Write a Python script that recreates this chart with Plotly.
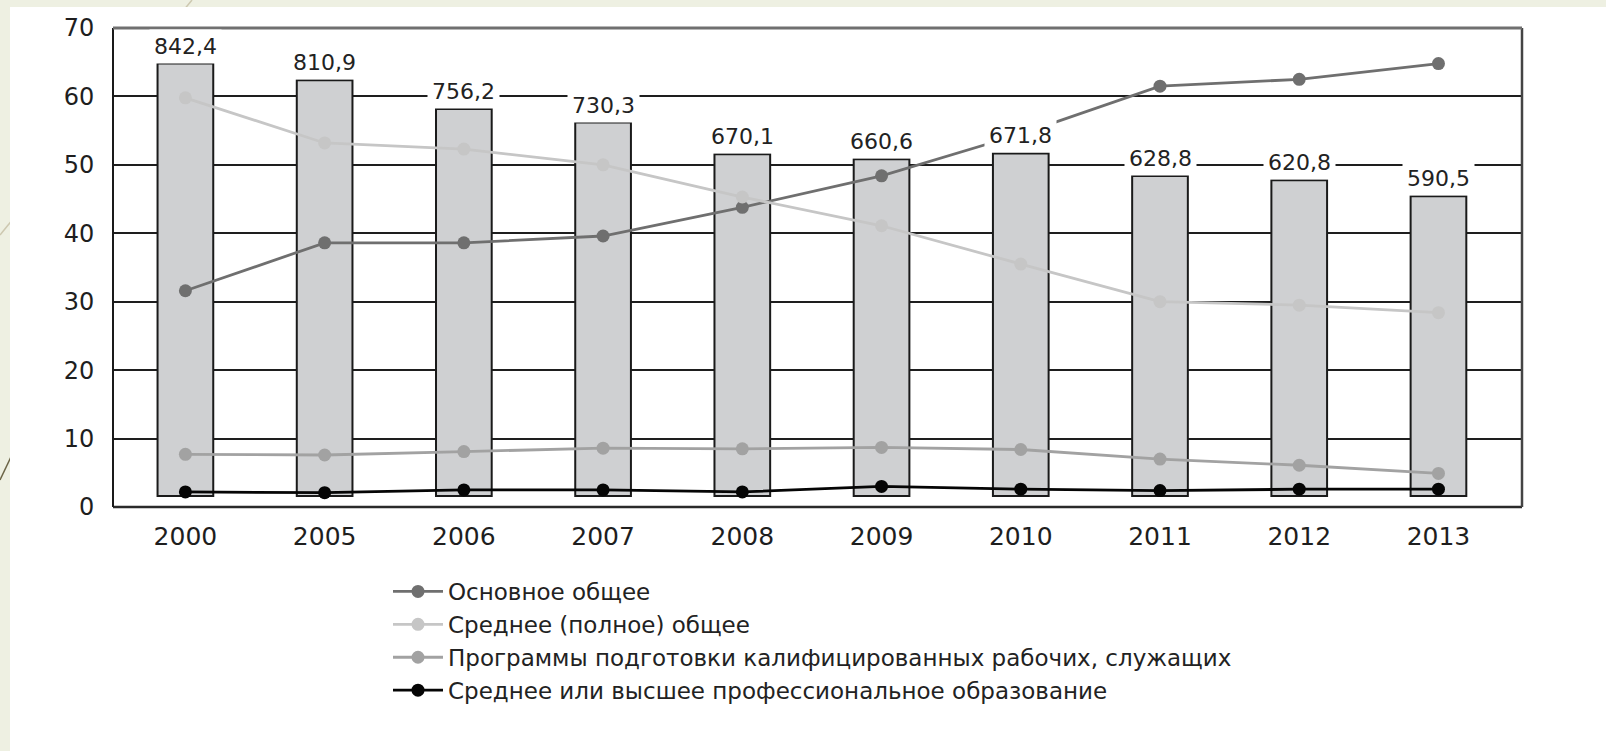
import plotly.graph_objects as go

years = ["2000", "2005", "2006", "2007", "2008", "2009", "2010", "2011", "2012", "2013"]
bar_values = [842.4, 810.9, 756.2, 730.3, 670.1, 660.6, 671.8, 628.8, 620.8, 590.5]
bar_labels = ["842,4", "810,9", "756,2", "730,3", "670,1", "660,6", "671,8", "628,8", "620,8", "590,5"]

basic_general = [31.6, 38.6, 38.6, 39.6, 43.8, 48.4, 54.5, 61.5, 62.5, 64.8]
secondary_general = [59.8, 53.2, 52.3, 50.0, 45.3, 41.1, 35.5, 30.0, 29.5, 28.4]
worker_programs = [7.7, 7.6, 8.1, 8.6, 8.5, 8.7, 8.4, 7.0, 6.1, 4.9]
prof_education = [2.2, 2.1, 2.5, 2.5, 2.2, 3.0, 2.6, 2.4, 2.6, 2.6]

series_names = [
    "Основное общее",
    "Среднее (полное) общее",
    "Программы подготовки калифицированных рабочих, служащих",
    "Среднее или высшее профессиональное образование",
]
series_values = [basic_general, secondary_general, worker_programs, prof_education]
series_colors = ["#6f6f6f", "#c6c6c6", "#a2a2a2", "#050505"]

W, H = 1606, 751
L, R, T, B = 113, 1522, 28, 507
BAR_AXIS_MAX = 910
BAR_BASE = 21
FONT = "DejaVu Sans"


def px(x):
    return (x - L) / (R - L)


def py(y):
    return (B - y) / (B - T)


fig = go.Figure()

fig.add_trace(go.Bar(
    x=years, y=[v - BAR_BASE for v in bar_values], base=BAR_BASE,
    xaxis="x", yaxis="y", width=0.4, orientation="v",
    marker=dict(color="#cfd0d2", line=dict(color="#1a1a1a", width=2)),
    showlegend=False, hoverinfo="skip",
))

for name, vals, col in zip(series_names, series_values, series_colors):
    fig.add_trace(go.Scatter(
        x=years, y=vals, xaxis="x", yaxis="y2", name=name, mode="lines+markers",
        line=dict(color=col, width=2.8),
        marker=dict(color=col, size=13),
    ))

annotations = []
for i, (v, lab) in enumerate(zip(bar_values, bar_labels)):
    annotations.append(dict(
        x=i, y=v, xref="x", yref="y", text=lab, showarrow=False,
        yanchor="bottom", yshift=0, bgcolor="white", borderpad=4,
        font=dict(family=FONT, size=22, color="#222222"),
    ))

shapes = [
    dict(type="line", xref="paper", yref="paper", x0=px(192), y0=py(0), x1=px(0), y1=py(235),
         line=dict(color="#cdc8b0", width=1.5), layer="below"),
    dict(type="line", xref="paper", yref="paper", x0=px(30), y0=py(417), x1=px(0), y1=py(480),
         line=dict(color="#6b6446", width=1.5), layer="below"),
    dict(type="rect", xref="paper", yref="paper", x0=px(10), y0=py(7), x1=px(W + 5), y1=py(H + 5),
         fillcolor="white", line=dict(width=0), layer="below"),
    dict(type="line", xref="paper", yref="paper", x0=0, y0=0, x1=1, y1=0,
         line=dict(color="#2a2a2a", width=2.5)),
    dict(type="line", xref="paper", yref="paper", x0=0, y0=0, x1=0, y1=1,
         line=dict(color="#1a1a1a", width=2)),
    dict(type="line", xref="paper", yref="paper", x0=1, y0=0, x1=1, y1=1,
         line=dict(color="#444444", width=2.5)),
    dict(type="line", xref="paper", yref="paper", x0=0, y0=1, x1=1, y1=1,
         line=dict(color="#707070", width=3)),
]

fig.update_layout(
    width=W, height=H,
    margin=dict(l=L, r=W - R, t=T, b=H - B, pad=0),
    paper_bgcolor="#eef0e2",
    plot_bgcolor="rgba(0,0,0,0)",
    barmode="overlay",
    xaxis=dict(
        type="category", categoryorder="array", categoryarray=years,
        range=[-0.52, 9.6],
        showgrid=False, zeroline=False, showline=False,
        ticks="outside", ticklen=7, tickcolor="rgba(0,0,0,0)",
        tickfont=dict(family=FONT, size=25, color="#1e1e1e"),
    ),
    yaxis=dict(
        range=[0, BAR_AXIS_MAX], showticklabels=False, showgrid=False,
        zeroline=False, showline=False, ticks="",
    ),
    yaxis2=dict(
        range=[0, 70], overlaying="y", side="left", anchor="x",
        tickmode="array", tickvals=[0, 10, 20, 30, 40, 50, 60, 70],
        showgrid=True, gridcolor="#1e1e1e", gridwidth=2, zeroline=False,
        showline=False, ticks="outside", ticklen=13, tickcolor="rgba(0,0,0,0)",
        tickfont=dict(family=FONT, size=24, color="#1e1e1e"),
    ),
    legend=dict(
        x=px(388), y=py(570), xanchor="left", yanchor="top",
        font=dict(family=FONT, size=23, color="#222222"),
        bgcolor="rgba(0,0,0,0)", tracegroupgap=0, itemwidth=50,
    ),
    annotations=annotations,
    shapes=shapes,
)

fig.write_html("out.html", config={"displayModeBar": False},
               post_script="document.body.style.margin='0px';")
